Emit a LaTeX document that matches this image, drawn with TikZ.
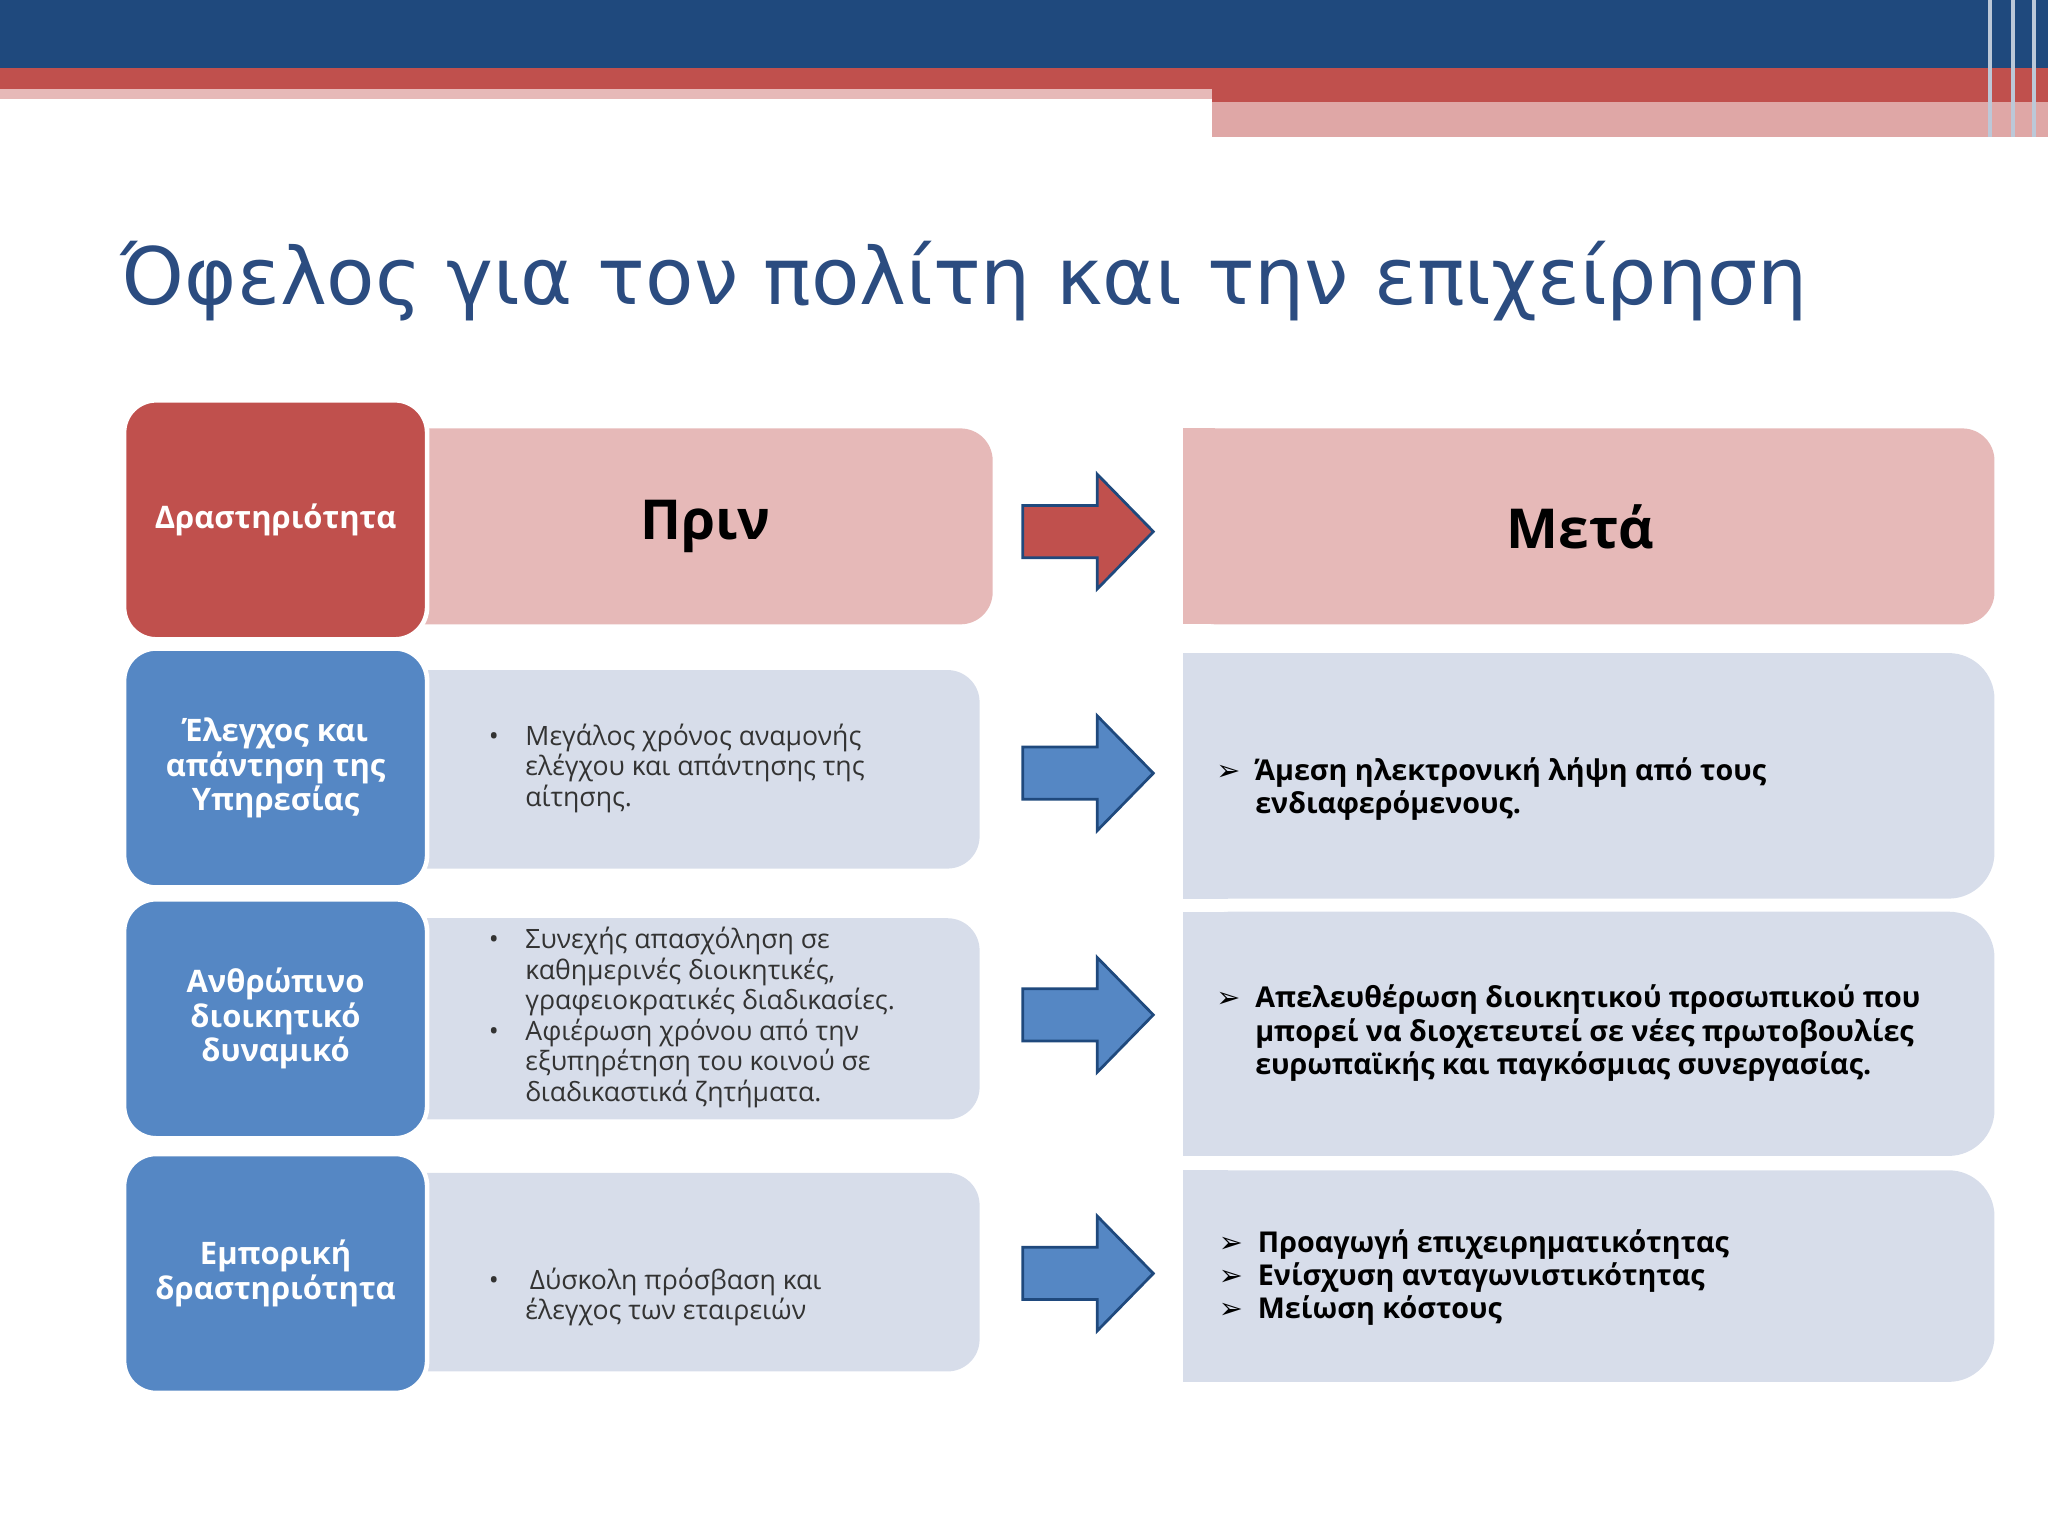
\documentclass[tikz,border=0pt]{standalone}
\usepackage{fontspec}
\setmainfont{Open Sans}
\newfontfamily\titlefont{DejaVu Sans}
\newcommand{\tri}{{\titlefont ➢}}
\definecolor{navy}{HTML}{1F497D}
\definecolor{redd}{HTML}{C0504D}
\definecolor{pinkk}{HTML}{E6B9B8}
\definecolor{pinkbar}{HTML}{DFA7A6}
\definecolor{bluee}{HTML}{5587C4}
\definecolor{greyb}{HTML}{D7DDEA}
\definecolor{titlec}{HTML}{2B4C80}
\tikzset{
 lab/.style={rounded corners=14pt,draw=white,line width=2pt,text=white,font=\fontsize{13.5}{15}\selectfont\bfseries,align=center},
 bul/.style={anchor=west,align=left,font=\fontsize{11.6}{13.3}\selectfont,text=black!80},
 rtx/.style={anchor=west,align=left,font=\fontsize{12.5}{14.5}\selectfont\bfseries},
 arr/.style={draw=navy,line width=1.2pt,line join=miter}
}
\newcommand{\bigarrow}[3]{% name, y, fill
 \coordinate (#1) at (833,#2);
 \draw[arr,fill=#3] (783,#2-20) -- (840,#2-20) -- (840,#2-44) -- (883,#2) -- (840,#2+44) -- (840,#2+20) -- (783,#2+20) -- cycle;}
\begin{document}
\begin{tikzpicture}[x=0.02cm,y=-0.02cm]
\useasboundingbox (0,0) rectangle (1568,1176);
% header
\fill[navy] (0,0) rectangle (1568,52);
\fill[redd] (0,52) rectangle (1568,68);
\fill[pinkk] (0,68) rectangle (928,76);
\fill[redd] (928,68) rectangle (1568,78);
\fill[pinkbar] (928,78) rectangle (1568,105);
\fill[white!70!navy] (1522,0) rectangle (1525,105);
\fill[white!70!navy] (1540,0) rectangle (1543,105);
\fill[white!70!navy] (1556,0) rectangle (1559,105);
\node[anchor=base west,text=titlec,inner sep=0pt,font=\titlefont\fontsize{34.5}{40}\selectfont] (title) at (92,233) {Όφελος για τον πολίτη και την επιχείρηση};
% header row
\fill[pinkk,rounded corners=14pt] (300,328) rectangle (760,478);
\node[font=\fontsize{24}{28}\selectfont\bfseries] (priv) at (540,403) {Πριν};
\fill[pinkk,rounded corners=14pt] (906,328) rectangle (1527,478);
\fill[pinkk] (906,328) rectangle (930,478);
\node[font=\fontsize{24}{28}\selectfont\bfseries] (meta) at (1210,403) {Μετά};
\node[lab,fill=redd,minimum width=232*0.02cm,minimum height=183*0.02cm] (a0) at (211,398) {Δραστηριότητα};
% mid boxes
\fill[greyb,rounded corners=14pt] (300,513) rectangle (750,665);
\fill[greyb,rounded corners=14pt] (300,703) rectangle (750,857);
\fill[greyb,rounded corners=14pt] (300,898) rectangle (750,1050);
% right boxes
\foreach \a/\b in {500/688,698/885,896/1058}{
 \fill[greyb,rounded corners=20pt] (906,\a) rectangle (1527,\b);
 \fill[greyb] (906,\a) rectangle (940,\b);}
\node[lab,fill=bluee,minimum width=232*0.02cm,minimum height=183*0.02cm] (a1) at (211,588) {Έλεγχος και\\απάντηση της\\Υπηρεσίας};
\node[lab,fill=bluee,minimum width=232*0.02cm,minimum height=183*0.02cm] (a2) at (211,780) {Ανθρώπινο\\διοικητικό\\δυναμικό};
\node[lab,fill=bluee,minimum width=232*0.02cm,minimum height=183*0.02cm] (a3) at (211,975) {Εμπορική\\δραστηριότητα};
% bullets
\node[bul] (b1) at (368,588) {\makebox[16pt][l]{\textbullet}Μεγάλος χρόνος αναμονής\\\hspace*{16pt}ελέγχου και απάντησης της\\\hspace*{16pt}αίτησης.};
\node[bul] (b2) at (368,779) {\makebox[16pt][l]{\textbullet}Συνεχής απασχόληση σε\\\hspace*{16pt}καθημερινές διοικητικές,\\\hspace*{16pt}γραφειοκρατικές διαδικασίες.\\\makebox[16pt][l]{\textbullet}Αφιέρωση χρόνου από την\\\hspace*{16pt}εξυπηρέτηση του κοινού σε\\\hspace*{16pt}διαδικαστικά ζητήματα.};
\node[bul] (b3) at (368,993) {\makebox[16pt][l]{\textbullet}\,Δύσκολη πρόσβαση και\\\hspace*{16pt}έλεγχος των εταιρειών};
% right texts
\node[rtx] (r1) at (925,604) {\makebox[17pt][l]{\tri}Άμεση ηλεκτρονική λήψη από τους\\\hspace*{17pt}ενδιαφερόμενους.};
\node[rtx] (r2) at (925,791) {\makebox[17pt][l]{\tri}Απελευθέρωση διοικητικού προσωπικού που\\\hspace*{17pt}μπορεί να διοχετευτεί σε νέες πρωτοβουλίες\\\hspace*{17pt}ευρωπαϊκής και παγκόσμιας συνεργασίας.};
\node[rtx] (r3) at (927,978) {\makebox[17pt][l]{\tri}Προαγωγή επιχειρηματικότητας\\\makebox[17pt][l]{\tri}Ενίσχυση ανταγωνιστικότητας\\\makebox[17pt][l]{\tri}Μείωση κόστους};
% arrows
\bigarrow{p0}{407}{redd}
\bigarrow{p1}{592}{bluee}
\bigarrow{p2}{777}{bluee}
\bigarrow{p3}{975}{bluee}
\end{tikzpicture}
\end{document}
